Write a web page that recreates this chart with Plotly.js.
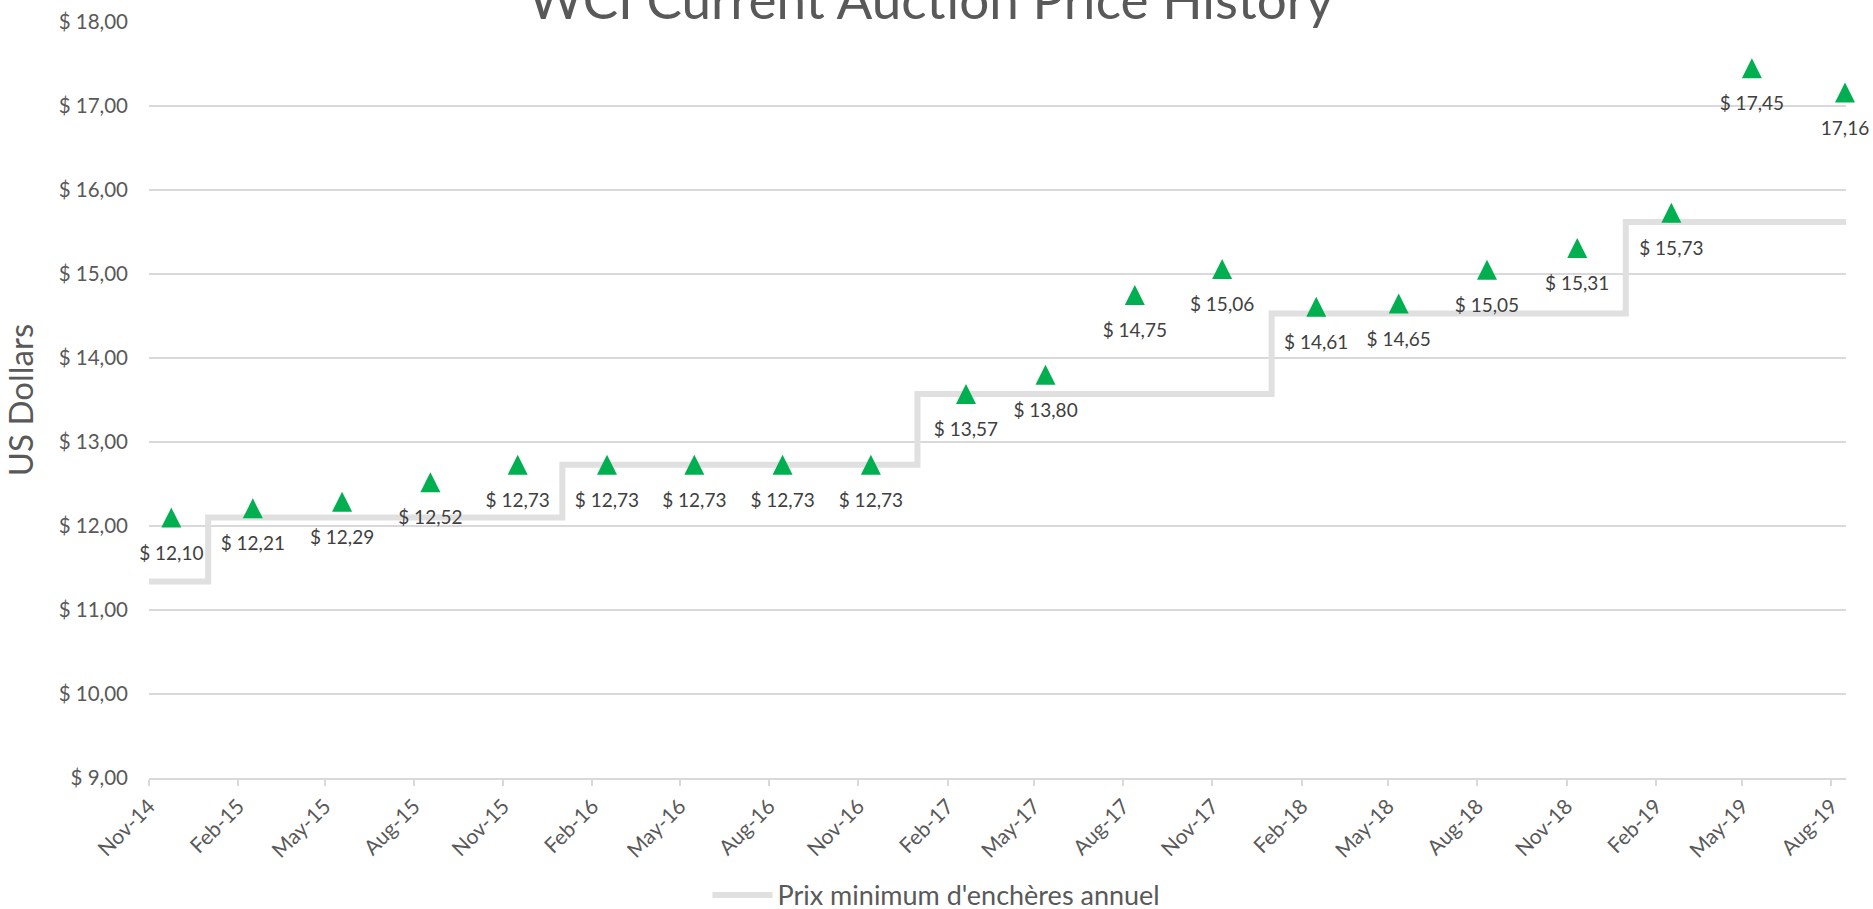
<!DOCTYPE html>
<html>
<head>
<meta charset="utf-8">
<script src="https://cdn.plot.ly/plotly-3.0.1.min.js"></script>
<style>
html,body{margin:0;padding:0;background:#ffffff;}
#chart{width:1873px;height:909px;}
</style>
</head>
<body>
<div id="chart"></div>
<script>
const chartTitle = 'WCI Current Auction Price History';
const yAxisTitle = 'US Dollars';
const legendName = "Prix minimum d'enchères annuel";

const auctionDates = ['2014-11-24','2015-02-16','2015-05-19','2015-08-18','2015-11-16','2016-02-16','2016-05-16','2016-08-15','2016-11-14','2017-02-20','2017-05-13','2017-08-13','2017-11-11','2018-02-16','2018-05-12','2018-08-11','2018-11-12','2019-02-17','2019-05-11','2019-08-15'];
const auctionPrices = [12.10, 12.21, 12.29, 12.52, 12.73, 12.73, 12.73, 12.73, 12.73, 13.57, 13.80, 14.75, 15.06, 14.61, 14.65, 15.05, 15.31, 15.73, 17.45, 17.16];
// data labels as shown in the picture (the last one is shown without its "$ ")
const labelTexts = ['$ 12,10','$ 12,21','$ 12,29','$ 12,52','$ 12,73','$ 12,73','$ 12,73','$ 12,73','$ 12,73','$ 13,57','$ 13,80','$ 14,75','$ 15,06','$ 14,61','$ 14,65','$ 15,05','$ 15,31','$ 15,73','$ 17,45','17,16'];

const floorDates = ['2014-11-01','2015-01-01','2016-01-01','2017-01-01','2018-01-01','2019-01-01','2019-08-16'];
const floorPrices = [11.34, 12.10, 12.73, 13.57, 14.53, 15.62, 15.62];

const xRange = ['2014-11-01','2019-08-16'];
const yRange = [9, 18];

const FONT = 'Lato, "Open Sans", sans-serif';

const traces = [
  {
    x: floorDates, y: floorPrices, type: 'scatter', mode: 'lines',
    name: legendName,
    line: {shape: 'hv', color: '#e0e0e0', width: 6},
    hoverinfo: 'skip'
  },
  {
    x: auctionDates, y: auctionPrices, type: 'scatter', mode: 'markers',
    showlegend: false, cliponaxis: false,
    marker: {symbol: 'arrow-down', angle: 180, standoff: 10, size: 20, color: '#00b050', line: {width: 0}}
  },
  {
    x: auctionDates, y: auctionPrices, type: 'scatter', mode: 'markers+text',
    showlegend: false, cliponaxis: false, hoverinfo: 'skip',
    text: labelTexts, textposition: 'bottom center',
    textfont: {family: FONT, size: 19, color: '#404040'},
    marker: {size: 43, color: 'rgba(0,0,0,0)', line: {width: 0}}
  }
];

const layout = {
  width: 1873, height: 909,
  margin: {l: 149, r: 27, t: 22, b: 131, pad: 0},
  paper_bgcolor: '#ffffff', plot_bgcolor: '#ffffff',
  separators: ', ',
  font: {family: FONT, color: '#595959'},
  title: {
    text: chartTitle,
    font: {family: FONT, size: 53, color: '#595959'},
    x: 0.497, xref: 'container', xanchor: 'center',
    y: 1, yref: 'container', yanchor: 'middle'
  },
  xaxis: {
    type: 'date', range: xRange,
    tick0: '2014-11-01', dtick: 'M3', tickformat: '%b-%y', tickangle: -45,
    ticks: 'outside', ticklen: 6, tickwidth: 1.5, tickcolor: '#d9d9d9',
    showline: true, linecolor: '#d9d9d9', linewidth: 1.5,
    showgrid: false, zeroline: false,
    tickfont: {family: FONT, size: 21, color: '#595959'}
  },
  yaxis: {
    range: yRange, tick0: 9, dtick: 1, tickformat: '.2f', tickprefix: '$ ',
    showgrid: true, gridcolor: '#d9d9d9', gridwidth: 1.5,
    zeroline: false, showline: false, ticks: '',
    ticklabelstandoff: 20,
    tickfont: {family: FONT, size: 20.5, color: '#595959'},
    title: {text: yAxisTitle, font: {family: FONT, size: 33, color: '#595959'}, standoff: 15}
  },
  showlegend: true,
  legend: {
    orientation: 'h', x: 0.5, xref: 'container', xanchor: 'center',
    y: 0.015, yref: 'container', yanchor: 'middle',
    font: {family: FONT, size: 27, color: '#595959'},
    itemwidth: 60, bgcolor: 'rgba(0,0,0,0)'
  },
  hovermode: false
};

Plotly.newPlot('chart', traces, layout, {displayModeBar: false, responsive: false});
</script>
</body>
</html>
